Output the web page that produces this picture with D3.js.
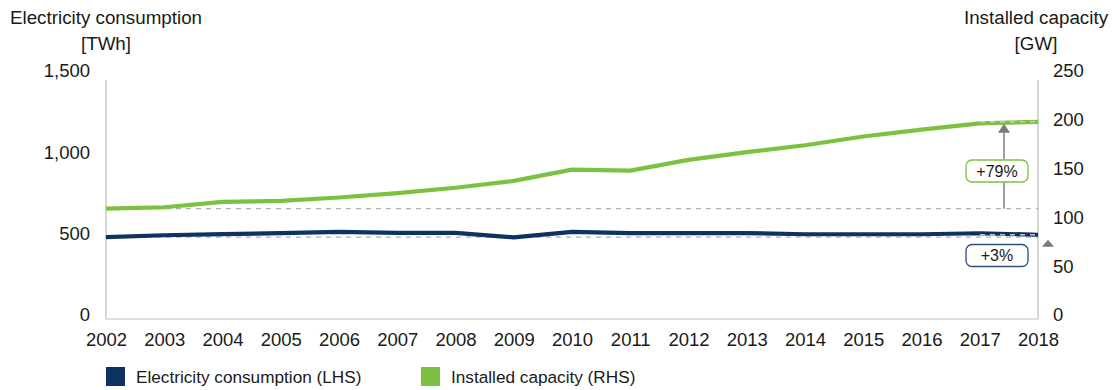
<!DOCTYPE html>
<html><head><meta charset="utf-8">
<script src="https://cdn.jsdelivr.net/npm/d3@7"></script>
<style>
body{margin:0;background:#fff;}
svg{display:block;font-family:"Liberation Sans",Arial,Helvetica,sans-serif;}
</style></head>
<body><svg id="chart" width="1114" height="390"></svg>
<script>
const years = [2002,2003,2004,2005,2006,2007,2008,2009,2010,2011,2012,2013,2014,2015,2016,2017,2018];
const consumption = [503,515,522,528,535,530,529,502,536,528,528,528,521,521,521,527,518];
const capacity = [113,114.5,120,121,124.5,129,134.5,141.5,153,152,163,171,178,187,194,200.5,202];
const leftTicks = [0,500,1000,1500];
const rightTicks = [0,50,100,150,200,250];
const seriesNames = ["Electricity consumption (LHS)","Installed capacity (RHS)"];
const colors = ["#0e3262","#7cc142"];
const pctLabels = ["+3%","+79%"];

const svg = d3.select("#chart");
const x0 = 106, x1 = 1038, yTop = 75, yBot = 319;
const x = d3.scalePoint().domain(years).range([x0,x1]);
const yL = d3.scaleLinear().domain([0,1500]).range([yBot,yTop]);
const yR = d3.scaleLinear().domain([0,250]).range([yBot,yTop]);
const fsTick = 18.5, fsTitle = 18.8, fsLeg = 17.2;

// axes lines
const axisCol = "#bdbdbd";
svg.append("line").attr("x1",x0).attr("x2",x0).attr("y1",yTop+5).attr("y2",yBot).attr("stroke",axisCol).attr("stroke-width",1.2);
svg.append("line").attr("x1",x1).attr("x2",x1).attr("y1",yTop+5).attr("y2",yBot).attr("stroke",axisCol).attr("stroke-width",1.2);
svg.append("line").attr("x1",x0).attr("x2",x1).attr("y1",yBot).attr("y2",yBot).attr("stroke",axisCol).attr("stroke-width",1.2);

// tick labels via d3 axes (no lines)
const gL = svg.append("g").attr("transform",`translate(${x0},-4)`)
  .call(d3.axisLeft(yL).tickValues(leftTicks).tickFormat(d3.format(",")).tickSize(0).tickPadding(16));
const gR = svg.append("g").attr("transform",`translate(${x1},-4)`)
  .call(d3.axisRight(yR).tickValues(rightTicks).tickSize(0).tickPadding(15));
const gX = svg.append("g").attr("transform",`translate(0,${yBot})`)
  .call(d3.axisBottom(x).tickSize(0).tickPadding(14));
[gL,gR,gX].forEach(g=>{
  g.select(".domain").remove();
  g.selectAll("text").attr("font-size",fsTick).attr("fill","#1a1a1a").attr("font-family","Liberation Sans, Arial, sans-serif");
});

// axis titles
const t1 = svg.append("text").attr("text-anchor","middle").attr("font-size",fsTitle).attr("fill","#1a1a1a");
t1.append("tspan").attr("x",x0).attr("y",24).text("Electricity consumption");
t1.append("tspan").attr("x",x0).attr("y",50).text("[TWh]");
const t2 = svg.append("text").attr("text-anchor","middle").attr("font-size",fsTitle).attr("fill","#1a1a1a");
t2.append("tspan").attr("x",x1-2).attr("y",24).text("Installed capacity");
t2.append("tspan").attr("x",x1-2).attr("y",50).text("[GW]");

// dashed reference lines
const dashCol = "#b0b0b0";
const c0 = yL(consumption[0]), cN = yL(consumption[consumption.length-1]);
const g0 = yR(capacity[0]), gN = yR(capacity[capacity.length-1]);
svg.append("line").attr("x1",x0).attr("x2",x1).attr("y1",g0).attr("y2",g0).attr("stroke",dashCol).attr("stroke-dasharray","5,5").attr("stroke-width",1.2);
svg.append("line").attr("x1",x0).attr("x2",x1).attr("y1",c0).attr("y2",c0).attr("stroke",dashCol).attr("stroke-dasharray","5,5").attr("stroke-width",1.2);

// lines
const lineL = d3.line().x((d,i)=>x(years[i])).y(d=>yL(d));
const lineR = d3.line().x((d,i)=>x(years[i])).y(d=>yR(d));
svg.append("path").attr("d",lineR(capacity)).attr("fill","none").attr("stroke",colors[1]).attr("stroke-width",4.2).attr("stroke-linejoin","round");
svg.append("path").attr("d",lineL(consumption)).attr("fill","none").attr("stroke",colors[0]).attr("stroke-width",4.2).attr("stroke-linejoin","round");

// end dashed lines (over series)
svg.append("line").attr("x1",980).attr("x2",x1).attr("y1",gN).attr("y2",gN).attr("stroke","#c8c8c8").attr("stroke-dasharray","5,5").attr("stroke-width",1.5);
svg.append("line").attr("x1",980).attr("x2",x1).attr("y1",cN).attr("y2",cN).attr("stroke","#c8c8c8").attr("stroke-dasharray","5,5").attr("stroke-width",1.5);

// green arrow
const ax = 1004;
svg.append("line").attr("x1",ax).attr("x2",ax).attr("y1",g0).attr("y2",gN+10).attr("stroke","#808080").attr("stroke-width",1.5);
svg.append("path").attr("d",`M${ax-6},${gN+11}L${ax+6},${gN+11}L${ax},${gN+2}Z`).attr("fill","#7a7a7a");
// blue arrow (outside right axis)
const bx = 1048;
svg.append("path").attr("d",`M${bx-6},${cN+12}L${bx+6},${cN+12}L${bx},${cN+5}Z`).attr("fill","#7a7a7a");

// labels
function pctBox(cx, cy, txt, col){
  svg.append("rect").attr("x",cx-31).attr("y",cy-11).attr("width",62).attr("height",22).attr("rx",6)
    .attr("fill","#fff").attr("stroke",col).attr("stroke-width",1.3);
  svg.append("text").attr("x",cx).attr("y",cy).attr("dy","0.35em").attr("text-anchor","middle")
    .attr("font-size",16).attr("fill","#1a1a1a").text(txt);
}
pctBox(997,171,pctLabels[1],colors[1]);
pctBox(997,255.5,pctLabels[0],"#2e4f80");

// legend
const legX = [106,421];
seriesNames.forEach((n,i)=>{
  svg.append("rect").attr("x",legX[i]).attr("y",367).attr("width",19).attr("height",19).attr("fill",colors[i]);
  svg.append("text").attr("x",legX[i]+30).attr("y",377).attr("dy","0.35em").attr("font-size",fsLeg).attr("fill","#1a1a1a").text(n);
});
</script></body></html>
